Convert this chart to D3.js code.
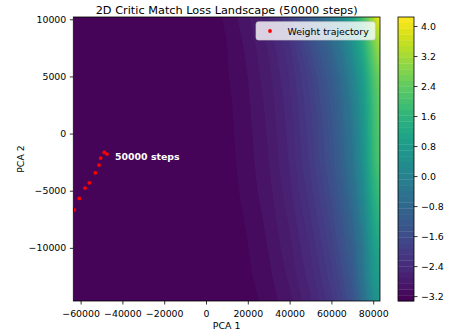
<!DOCTYPE html>
<html>
<head>
<meta charset="utf-8">
<script src="https://cdn.jsdelivr.net/npm/d3@7"></script>
<style>
  body { margin: 0; background: #fff; }
  svg { display: block; }
  text { font-family: "DejaVu Sans", sans-serif; fill: #000; }
</style>
</head>
<body>
<svg id="chart" width="450" height="335"></svg>
<script>
// Grid of the loss surface in PCA space (columns = PCA 1, rows = PCA 2, top row first)
const xCols = [-63500, -40000, -20000, 0, 10000, 20000, 30000, 40000, 50000, 55000, 60000, 65000, 70000, 75000, 80000, 83250];
const yRows = [10200, 9000, 7500, 5000, 2500, 0, -2500, -5000, -7500, -10000, -12500, -14650];
const lossGrid = [
  [-3.33, -3.33, -3.32, -3.30, -3.14, -2.90, -2.54, -2.03, -1.20, -0.80, -0.35,  0.25,  1.00,  2.00, 3.30, 4.24],
  [-3.33, -3.33, -3.32, -3.31, -3.16, -2.94, -2.62, -2.16, -1.40, -1.00, -0.60, -0.05,  0.70,  1.65, 2.90, 3.70],
  [-3.33, -3.33, -3.33, -3.33, -3.18, -2.98, -2.69, -2.29, -1.60, -1.25, -0.85, -0.30,  0.40,  1.30, 2.50, 3.20],
  [-3.33, -3.33, -3.33, -3.33, -3.19, -3.02, -2.76, -2.39, -1.85, -1.50, -1.15, -0.65,  0.00,  0.85, 2.05, 2.65],
  [-3.33, -3.33, -3.33, -3.33, -3.22, -3.05, -2.81, -2.46, -1.95, -1.62, -1.30, -0.82, -0.22,  0.62, 1.85, 2.40],
  [-3.33, -3.33, -3.33, -3.33, -3.23, -3.07, -2.84, -2.50, -2.00, -1.70, -1.38, -0.92, -0.35,  0.52, 1.75, 2.30],
  [-3.33, -3.33, -3.33, -3.33, -3.24, -3.09, -2.87, -2.54, -2.05, -1.75, -1.44, -1.00, -0.45,  0.42, 1.65, 2.20],
  [-3.33, -3.33, -3.33, -3.33, -3.26, -3.11, -2.92, -2.60, -2.15, -1.87, -1.57, -1.15, -0.63,  0.20, 1.40, 1.90],
  [-3.33, -3.33, -3.33, -3.33, -3.29, -3.15, -2.97, -2.68, -2.27, -2.00, -1.72, -1.33, -0.85, -0.05, 1.10, 1.60],
  [-3.33, -3.33, -3.33, -3.33, -3.32, -3.18, -3.01, -2.76, -2.38, -2.13, -1.86, -1.50, -1.05, -0.30, 0.80, 1.25],
  [-3.33, -3.33, -3.33, -3.33, -3.33, -3.21, -3.06, -2.83, -2.48, -2.25, -2.00, -1.67, -1.25, -0.42, 0.60, 0.95],
  [-3.33, -3.33, -3.33, -3.33, -3.33, -3.25, -3.11, -2.91, -2.58, -2.37, -2.14, -1.83, -1.43, -0.65, 0.30, 0.65]
];
const levelCount = 50;

// Weight trajectory projected on the two principal components
const trajX = [-63160, -60620, -57890, -55840, -52970, -51200, -50380, -48660, -47370];
const trajY = [-6673, -5674, -4772, -4308, -3433, -2758, -2145, -1646, -1795];
const stepCount = 50000;

const xTicks = [-60000, -40000, -20000, 0, 20000, 40000, 60000, 80000];
const yTicks = [-10000, -5000, 0, 5000, 10000];
const cbTicks = [-3.2, -2.4, -1.6, -0.8, 0.0, 0.8, 1.6, 2.4, 3.2, 4.0];

const svg = d3.select("#chart");
const plot = { left: 73.3, right: 380, top: 17, bottom: 301 };
const fs = 9.4;
const minus = s => s.replace(/-/g, "\u2212");

const x = d3.scaleLinear().domain([xCols[0], xCols[xCols.length - 1]]).range([plot.left, plot.right]);
const y = d3.scaleLinear().domain([yRows[yRows.length - 1], yRows[0]]).range([plot.bottom, plot.top]);

// Filled contour levels
const nx = xCols.length, ny = yRows.length;
const values = lossGrid.flat();
const zMin = d3.min(values), zMax = d3.max(values);
const levels = d3.range(levelCount).map(i => zMin + (zMax - zMin) * i / (levelCount - 1));
const colIndex = d3.scaleLinear().domain(d3.range(nx)).range(xCols);
const rowIndex = d3.scaleLinear().domain(d3.range(ny)).range(yRows);
const gx = c => x(colIndex(Math.max(0, Math.min(nx - 1, c - 0.5))));
const gy = r => y(rowIndex(Math.max(0, Math.min(ny - 1, r - 0.5))));
const gridPath = d3.geoPath(d3.geoTransform({
  point(px, py) { this.stream.point(gx(px), gy(py)); }
}));
const bandColor = i => d3.interpolateViridis(((levels[i] + levels[i + 1]) / 2 - zMin) / (zMax - zMin));
const bands = d3.contours().size([nx, ny]).thresholds(levels.slice(0, -1))(values);

svg.append("clipPath").attr("id", "plotClip")
  .append("rect")
  .attr("x", plot.left).attr("y", plot.top)
  .attr("width", plot.right - plot.left).attr("height", plot.bottom - plot.top);

const plotG = svg.append("g").attr("clip-path", "url(#plotClip)");
plotG.selectAll("path.band").data(bands).join("path")
  .attr("class", "band")
  .attr("d", gridPath)
  .attr("fill", (d, i) => bandColor(i));

// Trajectory
plotG.selectAll("circle.traj").data(trajX.map((v, i) => [v, trajY[i]])).join("circle")
  .attr("class", "traj")
  .attr("cx", d => x(d[0])).attr("cy", d => y(d[1]))
  .attr("r", 1.9).attr("fill", "#ff0000");

// Final step annotation
const last = trajX.length - 1;
svg.append("text")
  .attr("x", x(trajX[last]) + 8).attr("y", y(trajY[last]) + 6.3)
  .attr("font-size", fs).attr("font-weight", "bold")
  .style("fill", "#fff")
  .text(`${stepCount} steps`);

// Axes
const xAxis = d3.axisBottom(x).tickValues(xTicks).tickFormat(d => minus(String(d)))
  .tickSizeInner(3.5).tickSizeOuter(0).tickPadding(3.5);
const yAxis = d3.axisLeft(y).tickValues(yTicks).tickFormat(d => minus(String(d)))
  .tickSizeInner(3.5).tickSizeOuter(0).tickPadding(3.5);

const gxAxis = svg.append("g").attr("transform", `translate(0,${plot.bottom})`).call(xAxis);
const gyAxis = svg.append("g").attr("transform", `translate(${plot.left},0)`).call(yAxis);
[gxAxis, gyAxis].forEach(g => {
  g.select(".domain").remove();
  g.selectAll("line").attr("stroke", "#000").attr("stroke-width", 0.8);
  g.selectAll("text").attr("font-size", fs).attr("font-family", "DejaVu Sans, sans-serif").style("fill", "#000");
});
gxAxis.selectAll("text").attr("dy", null).attr("y", 15.5);

svg.append("rect")
  .attr("x", plot.left).attr("y", plot.top)
  .attr("width", plot.right - plot.left).attr("height", plot.bottom - plot.top)
  .attr("fill", "none").attr("stroke", "#000").attr("stroke-width", 0.8);

// Titles
svg.append("text")
  .attr("x", (plot.left + plot.right) / 2).attr("y", 13.5)
  .attr("text-anchor", "middle").attr("font-size", 11.3)
  .text(`2D Critic Match Loss Landscape (${stepCount} steps)`);
svg.append("text")
  .attr("x", (plot.left + plot.right) / 2).attr("y", 328.5)
  .attr("text-anchor", "middle").attr("font-size", fs)
  .text("PCA 1");
svg.append("text")
  .attr("transform", `translate(23.5,${(plot.top + plot.bottom) / 2}) rotate(-90)`)
  .attr("text-anchor", "middle").attr("font-size", fs)
  .text("PCA 2");

// Legend
const lg = svg.append("g");
lg.append("rect")
  .attr("x", 256).attr("y", 21.7).attr("width", 119.3).attr("height", 18.3)
  .attr("rx", 2.5)
  .attr("fill", "#fff").attr("fill-opacity", 0.8)
  .attr("stroke", "#ccc").attr("stroke-opacity", 0.8).attr("stroke-width", 0.8);
lg.append("circle").attr("cx", 270).attr("cy", 31).attr("r", 1.9).attr("fill", "#ff0000");
lg.append("text").attr("x", 287.5).attr("y", 34.5).attr("font-size", fs).text("Weight trajectory");

// Colorbar
const cb = { left: 398, width: 16 };
const cbScale = d3.scaleLinear().domain([zMin, zMax]).range([plot.bottom, plot.top]);
const cbG = svg.append("g");
cbG.selectAll("rect.seg").data(d3.range(levelCount - 1)).join("rect")
  .attr("class", "seg")
  .attr("x", cb.left).attr("width", cb.width)
  .attr("y", i => cbScale(levels[i + 1]))
  .attr("height", i => cbScale(levels[i]) - cbScale(levels[i + 1]) + 0.3)
  .attr("fill", i => bandColor(i));
const cbAxis = d3.axisRight(cbScale).tickValues(cbTicks)
  .tickFormat(d => minus(d3.format(".1f")(d)))
  .tickSizeInner(3.5).tickSizeOuter(0).tickPadding(3.5);
const cbAxisG = svg.append("g").attr("transform", `translate(${cb.left + cb.width},0)`).call(cbAxis);
cbAxisG.select(".domain").remove();
cbAxisG.selectAll("line").attr("stroke", "#000").attr("stroke-width", 0.8);
cbAxisG.selectAll("text").attr("font-size", fs).attr("font-family", "DejaVu Sans, sans-serif").style("fill", "#000");
svg.append("rect")
  .attr("x", cb.left).attr("y", plot.top)
  .attr("width", cb.width).attr("height", plot.bottom - plot.top)
  .attr("fill", "none").attr("stroke", "#000").attr("stroke-width", 0.8);
</script>
</body>
</html>
